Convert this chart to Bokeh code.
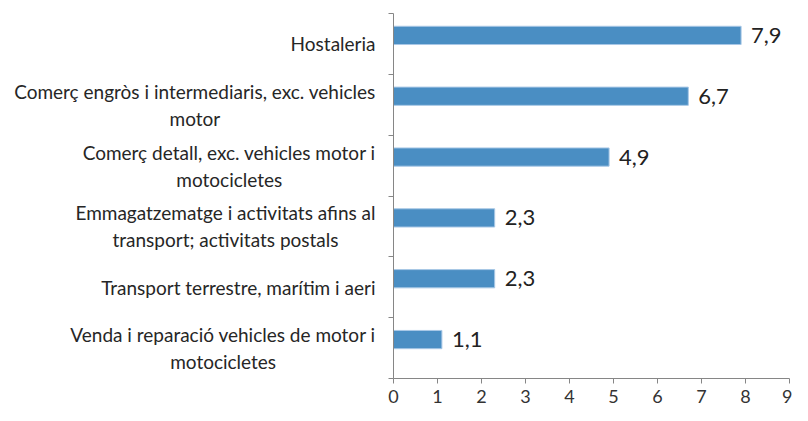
import glob
from bokeh.plotting import figure
from bokeh.layouts import row
from bokeh.models import FixedTicker, Range1d, ColumnDataSource
from bokeh.embed import file_html
from bokeh.resources import INLINE
from bokeh.core.properties import value

categories = [
    "Hostaleria",
    "Comerç engròs i intermediaris, exc. vehicles\nmotor",
    "Comerç detall, exc. vehicles motor i\nmotocicletes",
    "Emmagatzematge i activitats afins al\ntransport; activitats postals",
    "Transport terrestre, marítim i aeri",
    "Venda i reparació vehicles de motor i\nmotocicletes",
]
values = [7.9, 6.7, 4.9, 2.3, 2.3, 1.1]
x_ticks = [0, 1, 2, 3, 4, 5, 6, 7, 8, 9]

FONT = "Lato"
CAT_SIZE = 19
LINE_SPACING = 27
LABEL_GAP = 18
LEFT_W = 385
TOP, BOTTOM = 13, 26

# text width measurement (to centre the lines of each category label)
_font = None
try:
    from PIL import ImageFont
    paths = glob.glob("/usr/share/fonts/**/Lato-Regular.ttf", recursive=True) + \
        glob.glob("/usr/local/share/fonts/**/Lato-Regular.ttf", recursive=True)
    if paths:
        _font = ImageFont.truetype(paths[0], CAT_SIZE)
except Exception:
    _font = None


def text_width(s):
    if _font is not None:
        try:
            return _font.getlength(s)
        except Exception:
            pass
    return 0.47 * CAT_SIZE * len(s)


n = len(categories)
centers = [n - i - 0.5 for i in range(n)]
bar_offset = 0.14
src = ColumnDataSource(dict(
    y=[c + bar_offset for c in centers],
    v=values,
    lab=[f"{v:.1f}".replace(".", ",") for v in values],
))

y_range = Range1d(0, n)

# ---- main plot
p = figure(width=792 - LEFT_W, height=405, output_backend="svg", toolbar_location=None,
           x_range=Range1d(0, 9), y_range=y_range,
           min_border_left=8, min_border_right=3, min_border_top=TOP, min_border_bottom=BOTTOM)
p.outline_line_color = None
p.grid.grid_line_color = None

p.hbar(y="y", left=0, right="v", height=0.3, source=src,
       fill_color="#4A8EC3", line_color="#A8C8E6", line_width=1)
p.text(x="v", y="y", text="lab", source=src, x_offset=10,
       text_align="left", text_baseline="middle",
       text_font=value(FONT), text_font_size="22px", text_color="#222222")

axis_col = "#868686"
xa = p.xaxis[0]
xa.ticker = FixedTicker(ticks=x_ticks, minor_ticks=[])
xa.axis_line_color = axis_col
xa.major_tick_line_color = axis_col
xa.major_tick_out = 5
xa.major_tick_in = 0
xa.minor_tick_line_color = None
xa.major_label_standoff = 6
xa.major_label_text_font = FONT
xa.major_label_text_font_size = "18px"
xa.major_label_text_color = "#333333"

ya = p.yaxis[0]
ya.ticker = FixedTicker(ticks=centers, minor_ticks=list(range(n + 1)))
ya.major_label_overrides = {c: "" for c in centers}
ya.major_label_standoff = 0
ya.axis_line_color = axis_col
ya.major_tick_line_color = None
ya.major_tick_out = 0
ya.major_tick_in = 0
ya.minor_tick_line_color = axis_col
ya.minor_tick_out = 5
ya.minor_tick_in = 0

# ---- category labels panel (lines centred on each other, block right-aligned)
lx, ly, lyo, lt = [], [], [], []
for c, cat in zip(centers, categories):
    lines = cat.split("\n")
    w = max(text_width(s) for s in lines)
    cx = LEFT_W + 8 - LABEL_GAP - w / 2
    k = len(lines)
    for j, s in enumerate(lines):
        lx.append(cx)
        ly.append(c)
        lyo.append((j - (k - 1) / 2) * LINE_SPACING)
        lt.append(s)
lab_src = ColumnDataSource(dict(x=lx, y=ly, yo=lyo, t=lt))

left = figure(width=LEFT_W, height=405, output_backend="svg", toolbar_location=None,
              x_range=Range1d(0, LEFT_W), y_range=y_range,
              min_border_left=0, min_border_right=0, min_border_top=TOP, min_border_bottom=BOTTOM)
left.axis.visible = False
left.grid.grid_line_color = None
left.outline_line_color = None
left.text(x="x", y="y", text="t", y_offset="yo", source=lab_src,
          text_align="center", text_baseline="middle",
          text_font=value(FONT), text_font_size=f"{CAT_SIZE}px", text_color="#262626")

layout = row(left, p, spacing=0)
open("out.html", "w").write(file_html(layout, INLINE))
